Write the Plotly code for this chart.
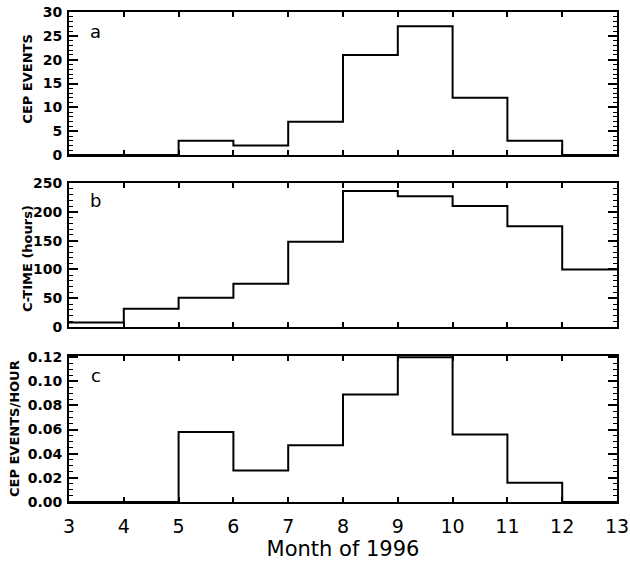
import plotly.graph_objects as go

months = [3, 4, 5, 6, 7, 8, 9, 10, 11, 12, 13]
cep_events = [0, 0, 3, 2, 7, 21, 27, 12, 3, 0]
c_time = [8, 32, 51, 75, 148, 236, 227, 210, 175, 100]
cep_rate = [0, 0, 0.058, 0.026, 0.047, 0.089, 0.12, 0.056, 0.016, 0]

panels = [
    dict(vals=cep_events, title="CEP EVENTS", rng=[0, 30], dtick=5, minor=1,
         fmt="d", label="a", dom=[0.708, 1.0], title_x=-0.0748, title_y=0.862, label_y=0.961),
    dict(vals=c_time, title="C-TIME (hours)", rng=[0, 250], dtick=50, minor=10,
         fmt="d", label="b", dom=[0.357, 0.651], title_x=-0.0748, title_y=0.496, label_y=0.616),
    dict(vals=cep_rate, title="CEP EVENTS/HOUR", rng=[0, 0.121], dtick=0.02, minor=0.005,
         fmt=".2f", label="c", dom=[0.0, 0.298], title_x=-0.1004, title_y=0.151, label_y=0.259),
]

fig = go.Figure()
font_fam = "DejaVu Sans, sans-serif"
layout = dict(
    width=630, height=565,
    margin=dict(l=69, r=13, t=12, b=63),
    paper_bgcolor="white", plot_bgcolor="white",
    showlegend=False,
    font=dict(family=font_fam, color="black"),
)

for i, p in enumerate(panels, start=1):
    xa = "x" if i == 1 else f"x{i}"
    ya = "y" if i == 1 else f"y{i}"
    fig.add_trace(go.Scatter(
        x=months, y=p["vals"] + [p["vals"][-1]],
        mode="lines", line=dict(shape="hv", color="black", width=2),
        xaxis=xa, yaxis=ya, hoverinfo="skip", cliponaxis=False,
    ))
    xkey = "xaxis" if i == 1 else f"xaxis{i}"
    ykey = "yaxis" if i == 1 else f"yaxis{i}"
    layout[xkey] = dict(
        domain=[0, 1], anchor=ya, range=[3, 13], dtick=1, tick0=3,
        ticks="inside", ticklen=5, tickwidth=1.5, tickcolor="black",
        showline=True, linewidth=2, linecolor="black", mirror="ticks",
        showgrid=False, zeroline=False, automargin=False,
        showticklabels=(i == 3),
        tickfont=dict(size=19, family=font_fam),
        ticklabelstandoff=6,
        title=dict(text="Month of 1996" if i == 3 else "", font=dict(size=21), standoff=2),
    )
    if i != 3:
        layout[xkey]["matches"] = "x3"
    layout[ykey] = dict(
        domain=p["dom"], anchor=xa, range=p["rng"], dtick=p["dtick"], tick0=0,
        tickformat=p["fmt"],
        ticks="inside", ticklen=9, tickwidth=1.5, tickcolor="black",
        minor=dict(dtick=p["minor"], ticks="inside", ticklen=4, tickwidth=1, tickcolor="black"),
        showline=True, linewidth=2, linecolor="black", mirror="ticks",
        showgrid=False, zeroline=False, automargin=False,
        tickfont=dict(size=14, family=font_fam, weight="bold"),
        ticklabelstandoff=2,
    )

fig.update_layout(**layout)

for p in panels:
    fig.add_annotation(text=p["label"], xref="paper", yref="paper", x=0.049, y=p["label_y"],
                       showarrow=False, xanchor="center", yanchor="middle",
                       font=dict(size=18, family=font_fam))
    fig.add_annotation(text=p["title"], xref="paper", yref="paper", x=p["title_x"], y=p["title_y"],
                       showarrow=False, xanchor="center", yanchor="middle", textangle=-90,
                       font=dict(size=13, family=font_fam, weight="bold"))

# remove the default page margin so the figure fills the window exactly
fig.write_html("out.html", config={"displayModeBar": False},
               post_script="document.body.style.margin='0';")
